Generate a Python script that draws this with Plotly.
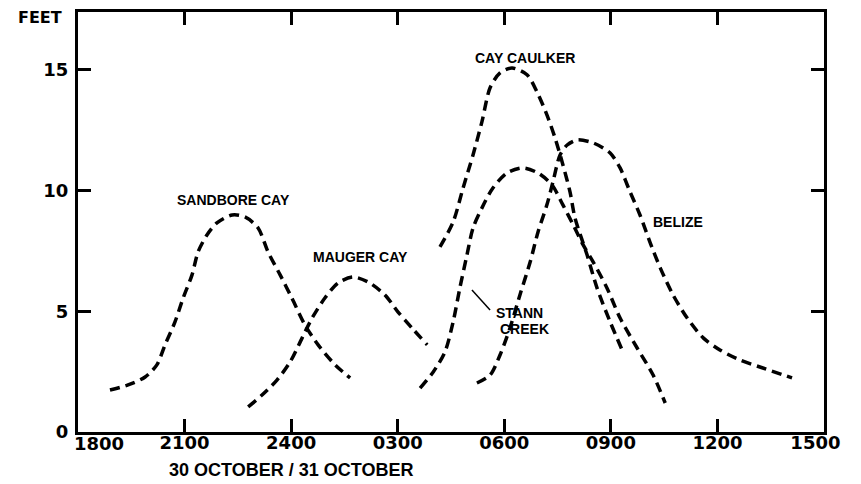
import plotly.graph_objects as go

# Hours after 1800 on 30 October
tick_vals = [0, 3, 6, 9, 12, 15, 18, 21]
tick_text = ["1800", "2100", "2400", "0300", "0600", "0900", "1200", "1500"]
y_ticks = [0, 5, 10, 15]

sandbore_x = [0.90, 1.41, 1.89, 2.22, 2.45, 2.73, 2.96, 3.21, 3.38, 3.63, 3.91, 4.34, 4.70, 5.07, 5.35, 5.69, 6.02, 6.39, 6.76, 7.24, 7.66]
sandbore_y = [1.74, 1.95, 2.28, 2.78, 3.61, 4.56, 5.55, 6.51, 7.46, 8.16, 8.66, 8.99, 8.91, 8.45, 7.46, 6.51, 5.55, 4.43, 3.61, 2.78, 2.24]

mauger_x = [4.79, 5.18, 5.60, 5.97, 6.31, 6.59, 6.95, 7.32, 7.74, 8.16, 8.64, 9.01, 9.40, 9.83]
mauger_y = [1.04, 1.53, 2.15, 2.90, 3.90, 4.72, 5.55, 6.17, 6.42, 6.22, 5.68, 4.97, 4.31, 3.61]

caulker_x = [10.19, 10.56, 10.84, 11.12, 11.37, 11.60, 11.88, 12.22, 12.64, 12.92, 13.20, 13.43, 13.65, 13.85, 13.99, 14.33, 14.61, 14.98, 15.34]
caulker_y = [7.67, 8.70, 10.11, 11.48, 12.85, 14.26, 14.88, 15.08, 14.80, 14.09, 13.14, 12.18, 11.07, 9.95, 8.87, 7.34, 5.97, 4.56, 3.32]

stann_x = [9.63, 10.00, 10.33, 10.56, 10.75, 10.95, 11.12, 11.37, 11.68, 12.08, 12.53, 12.95, 13.34, 13.65, 13.94, 14.22, 14.50, 14.89, 15.26, 15.74, 16.19, 16.53]
stann_y = [1.82, 2.49, 3.32, 4.56, 5.97, 7.34, 8.45, 9.28, 10.11, 10.73, 10.94, 10.73, 10.24, 9.41, 8.58, 7.75, 7.05, 5.97, 4.72, 3.48, 2.36, 1.20]

belize_x = [11.23, 11.60, 11.88, 12.16, 12.44, 12.73, 12.95, 13.20, 13.37, 13.57, 13.77, 14.05, 14.50, 14.98, 15.26, 15.54, 15.82, 16.10, 16.39, 16.75, 17.15, 17.60, 18.07, 18.64, 19.28, 20.10]
belize_y = [2.03, 2.36, 3.19, 4.31, 5.68, 7.05, 8.29, 9.41, 10.36, 11.48, 11.89, 12.10, 11.98, 11.56, 10.94, 9.95, 8.99, 7.87, 6.80, 5.68, 4.72, 3.90, 3.40, 2.98, 2.65, 2.24]

series = [
    ("SANDBORE CAY", sandbore_x, sandbore_y),
    ("MAUGER CAY", mauger_x, mauger_y),
    ("CAY CAULKER", caulker_x, caulker_y),
    ("STANN CREEK", stann_x, stann_y),
    ("BELIZE", belize_x, belize_y),
]

fig = go.Figure()
for name, xs, ys in series:
    fig.add_trace(go.Scatter(
        x=xs, y=ys, mode="lines", name=name,
        line=dict(color="black", width=3.5, dash="10px,6px", shape="spline", smoothing=0.8),
        showlegend=False, hoverinfo="skip",
    ))

lab_font_b = dict(family="Liberation Sans", size=14, color="black")

def label(text, x, y, **kw):
    fig.add_annotation(x=x, y=y, xref="x", yref="y", text="<b>%s</b>" % text,
                       showarrow=False, font=lab_font_b, **kw)

label("SANDBORE CAY", 4.39, 9.6)
label("MAUGER CAY", 7.94, 7.25)
label("CAY CAULKER", 12.58, 15.5)
label("BELIZE", 16.89, 8.68)
label("STANN", 12.42, 4.92)
label("CREEK", 12.56, 4.27)

# leader line for Stann Creek label
fig.add_shape(type="line", xref="x", yref="y", x0=11.09, y0=5.88, x1=11.60, y1=5.05,
              line=dict(color="black", width=1.5))

fig.add_annotation(x=-0.051, y=0.986, xref="paper", yref="paper", text="<b>FEET</b>",
                   showarrow=False, xanchor="center", yanchor="middle",
                   font=dict(family="DejaVu Sans", size=16, color="black"))
fig.add_annotation(x=6.0, y=-0.09, xref="x", yref="paper", xanchor="center", yanchor="middle",
                   text="<b>30 OCTOBER / 31 OCTOBER</b>", showarrow=False,
                   font=dict(family="Liberation Sans", size=18, color="black"))

axis_common = dict(showline=True, linecolor="black", linewidth=3, mirror="ticks",
                   ticks="inside", ticklen=13, tickwidth=3, tickcolor="black",
                   showgrid=False, zeroline=False,
                   tickfont=dict(family="DejaVu Sans", size=18, color="black"))

tick_font = dict(family="DejaVu Sans", size=18, color="black")
nb = "\u00a0"
x_text = ["<b>%s</b>" % t for t in tick_text]
# the first label sits just right of the corner in the reference: draw it as an annotation
fig.add_annotation(x=tick_vals[0], y=-0.027, xref="x", yref="paper", xanchor="left",
                   yanchor="middle", xshift=-6, text=x_text[0], showarrow=False, font=tick_font)
x_text[0] = ""
x_text[-1] = x_text[-1] + nb * 3

fig.update_xaxes(range=[0, 21], tickvals=tick_vals, ticktext=x_text,
                 ticklabelstandoff=-8, **axis_common)
fig.update_yaxes(range=[0, 17.4], tickvals=y_ticks, ticktext=["<b>%d</b>" % v for v in y_ticks],
                 ticklabelstandoff=3, **axis_common)

# page body has an 8px margin; size the figure so the plot area lands where the reference has it
fig.update_layout(
    width=853, height=476,
    margin=dict(l=70, r=37, t=4, b=52, autoexpand=False),
    paper_bgcolor="white", plot_bgcolor="white",
)

fig.write_html("out.html")
